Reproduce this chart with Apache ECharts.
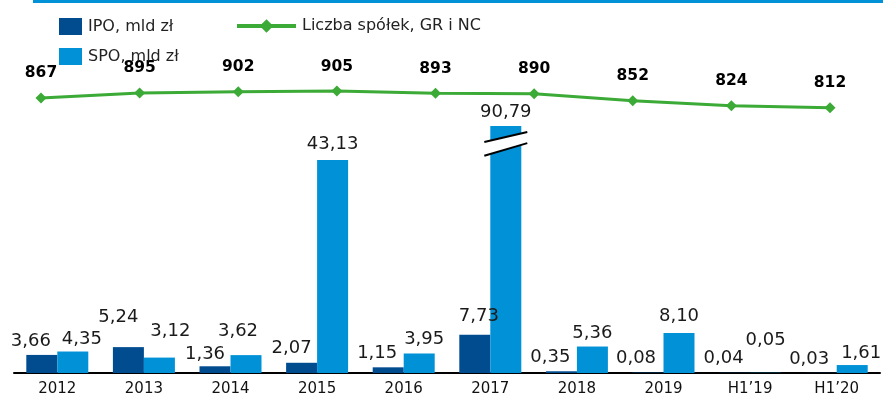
<!DOCTYPE html>
<html>
<head>
<meta charset="utf-8">
<script src="https://cdn.jsdelivr.net/npm/echarts@6/dist/echarts.min.js"></script>
<style>
  html, body { margin: 0; padding: 0; background: #fff; }
  #chart { width: 883px; height: 398px; }
</style>
</head>
<body>
<div id="chart"></div>
<script>
// Offering values (bn PLN) per period
const categories = ['2012', '2013', '2014', '2015', '2016', '2017', '2018', '2019', 'H1\u201919', 'H1\u201920'];
const ipoValues = [3.66, 5.24, 1.36, 2.07, 1.15, 7.73, 0.35, 0.08, 0.04, 0.03];
const spoValues = [4.35, 3.12, 3.62, 43.13, 3.95, 90.79, 5.36, 8.10, 0.05, 1.61];

// Number of listed companies (Main Market + NewConnect)
const companyPeriods = ['2012', '2013', '2014', '2015', '2016', '2017', '2018', '2019', 'H1\u201920'];
const companyCounts = [867, 895, 902, 905, 893, 890, 852, 824, 812];

const seriesNames = ['IPO, mld z\u0142', 'SPO, mld z\u0142', 'Liczba sp\u00f3\u0142ek, GR i NC'];

// ---- presentation settings ----
const FONT = 'DejaVu Sans';
const COLOR_IPO = '#004C8F';
const COLOR_SPO = '#0091D6';
const COLOR_LINE = '#3CAA36';
const BAR_W = 31;
const BAR_AXIS_MAX = 50;      // taller bars are cut at the top of the plot
const BREAK_AT = 46.5;        // where the "//" break sits on a cut bar

// hand-placed label nudges [dx, dy] so labels do not collide
const ipoLabelNudge = [[-11, 0], [-10, -16], [-10, 2], [-10, 0], [-11, 0], [4, -4], [-11, 0], [-12, 0], [-11, 0], [-12, 0]];
const spoLabelNudge = [[9, 2], [11, -12], [-8, -10], [0, -2], [5, 0], [0, 0], [0, 1], [0, -3], [0, -18], [9, 2]];

const fmt = v => v.toFixed(2).replace('.', ',');

function barData(values, nudges) {
  return values.map((v, i) => ({
    value: v,
    label: { offset: nudges[i] }
  }));
}

const barLabel = {
  show: true,
  position: 'top',
  distance: 5,
  fontFamily: FONT,
  fontSize: 18,
  color: '#1a1a1a',
  formatter: p => fmt(p.value)
};

const breakData = spoValues
  .map((v, i) => (v > BAR_AXIS_MAX ? [i, BREAK_AT] : null))
  .filter(Boolean);

const chart = echarts.init(document.getElementById('chart'), null, { renderer: 'canvas' });

chart.setOption({
  animation: false,
  backgroundColor: '#fff',
  textStyle: { fontFamily: FONT },
  graphic: [
    { type: 'rect', left: 33, top: 0, shape: { width: 850, height: 3 }, style: { fill: COLOR_SPO } }
  ],
  legend: [
    {
      data: [seriesNames[0], seriesNames[1]],
      orient: 'vertical',
      left: 54,
      top: 13,
      itemWidth: 23,
      itemHeight: 17,
      itemGap: 13,
      icon: 'rect',
      selectedMode: false,
      textStyle: { fontFamily: FONT, fontSize: 16, color: '#222', padding: [0, 0, 0, 1] }
    },
    {
      data: [seriesNames[2]],
      left: 230,
      top: 13,
      itemWidth: 59,
      itemHeight: 17,
      selectedMode: false,
      lineStyle: { width: 4 },
      textStyle: { fontFamily: FONT, fontSize: 16, color: '#222', padding: [0, 0, 0, 1] }
    }
  ],
  grid: [
    { left: 14, right: 3, top: 126, bottom: 25, containLabel: false },
    { left: 41, right: 53, top: 74, height: 180, containLabel: false }
  ],
  xAxis: [
    {
      type: 'category',
      gridIndex: 0,
      data: categories,
      axisLine: { show: true, lineStyle: { color: '#000', width: 2 } },
      axisTick: { show: false },
      axisLabel: { fontFamily: FONT, fontSize: 15, color: '#111', margin: 9 }
    },
    {
      type: 'category',
      gridIndex: 1,
      data: companyPeriods,
      boundaryGap: false,
      show: false
    }
  ],
  yAxis: [
    { type: 'value', gridIndex: 0, min: 0, max: BAR_AXIS_MAX, show: false, splitLine: { show: false } },
    { type: 'value', gridIndex: 1, min: 0, max: 1000, show: false, splitLine: { show: false } }
  ],
  series: [
    {
      name: seriesNames[0],
      type: 'bar',
      xAxisIndex: 0,
      yAxisIndex: 0,
      barWidth: BAR_W,
      barGap: '0%',
      clip: true,
      itemStyle: { color: COLOR_IPO },
      label: barLabel,
      data: barData(ipoValues, ipoLabelNudge)
    },
    {
      name: seriesNames[1],
      type: 'bar',
      xAxisIndex: 0,
      yAxisIndex: 0,
      barWidth: BAR_W,
      barGap: '0%',
      clip: true,
      itemStyle: { color: COLOR_SPO },
      label: barLabel,
      data: barData(spoValues, spoLabelNudge)
    },
    {
      // "//" break marks on bars that run past the top of the plot
      type: 'custom',
      xAxisIndex: 0,
      yAxisIndex: 0,
      silent: true,
      z: 5,
      encode: { x: 0, y: 1 },
      data: breakData,
      renderItem(params, api) {
        const c = api.coord([api.value(0), api.value(1)]);
        const cx = c[0] + BAR_W / 2;
        const cy = c[1];
        const half = 21.5;
        const topL = [cx - half, cy - 1.2], topR = [cx + half, cy - 11.2];
        const botL = [cx - half, cy + 12.5], botR = [cx + half, cy - 0.2];
        return {
          type: 'group',
          children: [
            { type: 'polygon', shape: { points: [topL, topR, botR, botL] }, style: { fill: '#fff' } },
            { type: 'line', shape: { x1: topL[0], y1: topL[1], x2: topR[0], y2: topR[1] }, style: { stroke: '#000', lineWidth: 2 } },
            { type: 'line', shape: { x1: botL[0], y1: botL[1], x2: botR[0], y2: botR[1] }, style: { stroke: '#000', lineWidth: 2 } }
          ]
        };
      }
    },
    {
      name: seriesNames[2],
      type: 'line',
      xAxisIndex: 1,
      yAxisIndex: 1,
      data: companyCounts,
      symbol: 'diamond',
      symbolSize: 11,
      lineStyle: { color: COLOR_LINE, width: 3 },
      itemStyle: { color: COLOR_LINE },
      label: {
        show: true,
        position: 'top',
        distance: 11,
        fontFamily: FONT,
        fontSize: 15.5,
        fontWeight: 'bold',
        color: '#000'
      }
    }
  ]
});
</script>
</body>
</html>
